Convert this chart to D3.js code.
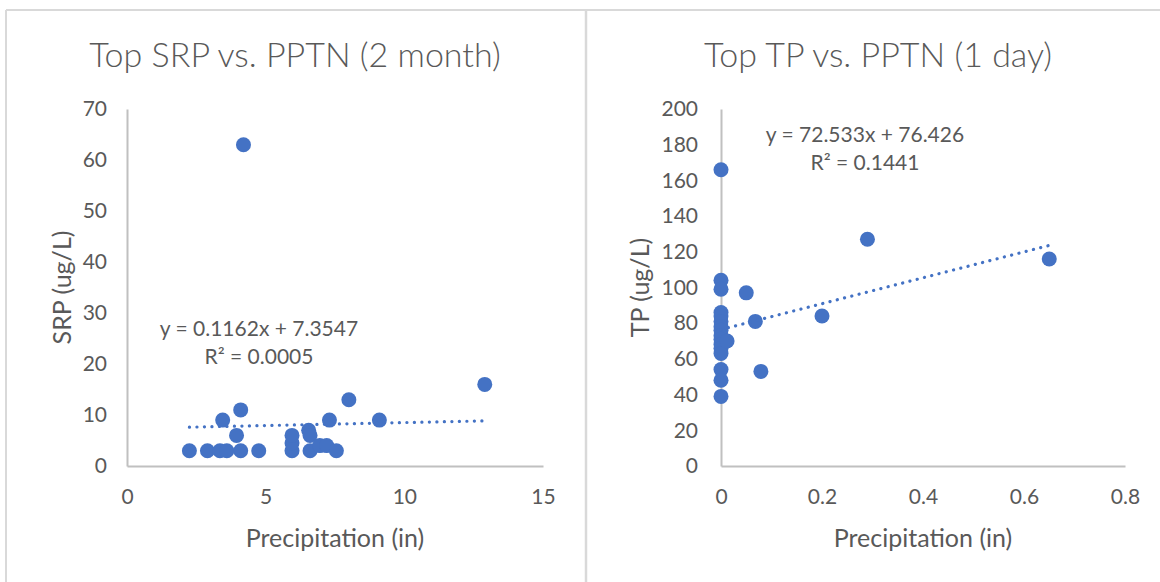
<!DOCTYPE html>
<html>
<head>
<meta charset="utf-8">
<script src="https://cdn.jsdelivr.net/npm/d3@7"></script>
<style>
  html, body { margin: 0; padding: 0; background: #fff; }
  svg text { font-family: Lato, "Open Sans", sans-serif; fill: #595959; }
</style>
</head>
<body>
<svg id="chart" width="1160" height="582"></svg>
<script>
// Left panel: top SRP vs. two-month precipitation
const srpPrecip = [2.25, 2.9, 3.35, 3.6, 4.1, 4.75, 5.95, 5.95, 5.95, 6.55, 6.6, 6.6, 6.95, 7.2, 7.55, 7.3, 8.0, 9.1, 12.9, 3.45, 4.1, 3.95, 4.2];
const srpValues = [3, 3, 3, 3, 3, 3, 3, 4.5, 6, 7, 6, 3, 4, 4, 3, 9, 13, 9, 16, 9, 11, 6, 63];
const srpTrend = { slope: 0.1162, intercept: 7.3547, r2: "0.0005" };
const srpXTicks = [0, 5, 10, 15];
const srpYTicks = [0, 10, 20, 30, 40, 50, 60, 70];

// Right panel: top TP vs. one-day precipitation
const tpPrecip = [0, 0, 0, 0, 0, 0, 0, 0, 0, 0, 0, 0, 0, 0, 0, 0, 0.012, 0.05, 0.068, 0.079, 0.2, 0.29, 0.65];
const tpValues = [166, 104, 99, 86, 84, 81, 78, 76, 73, 71, 68, 66, 63, 54, 48, 39, 70, 97, 81, 53, 84, 127, 116];
const tpTrend = { slope: 72.533, intercept: 76.426, r2: "0.1441" };
const tpXTicks = [0, 0.2, 0.4, 0.6, 0.8];
const tpYTicks = [0, 20, 40, 60, 80, 100, 120, 140, 160, 180, 200];

const svg = d3.select("#chart");
const blue = "#4472C4";
const axisGrey = "#c0c0c0";
const frameGrey = "#d9d9d9";

// chart frames
svg.append("line").attr("x1", 6).attr("x2", 1160).attr("y1", 10).attr("y2", 10)
  .attr("stroke", frameGrey).attr("stroke-width", 2);
svg.append("line").attr("x1", 6).attr("x2", 6).attr("y1", 10).attr("y2", 582)
  .attr("stroke", frameGrey).attr("stroke-width", 2);
svg.append("line").attr("x1", 586).attr("x2", 586).attr("y1", 10).attr("y2", 582)
  .attr("stroke", frameGrey).attr("stroke-width", 2.5);

function panel(cfg) {
  const g = svg.append("g");
  const x = d3.scaleLinear().domain(cfg.xDomain).range(cfg.xRange);
  const y = d3.scaleLinear().domain(cfg.yDomain).range([466, 109]);

  // title
  g.append("text").attr("x", cfg.titleX).attr("y", 67)
    .attr("text-anchor", "middle").attr("font-size", 34).attr("font-weight", 300)
    .text(cfg.title);

  // axes (lines and labels, no tick marks)
  const xAxis = g.append("g").attr("transform", `translate(0,${y(0)})`)
    .call(d3.axisBottom(x).tickValues(cfg.xTicks).tickSize(0).tickPadding(23)
      .tickFormat(d3.format("~g")));
  const yAxis = g.append("g").attr("transform", `translate(${x(0)},0)`)
    .call(d3.axisLeft(y).tickValues(cfg.yTicks).tickSize(0).tickPadding(cfg.yPad)
      .tickFormat(d3.format("~g")));
  [xAxis, yAxis].forEach(a => {
    a.select(".domain").attr("stroke", axisGrey).attr("stroke-width", 2);
    a.selectAll("text").attr("font-size", 21).attr("fill", "#595959")
      .attr("font-family", "Lato, 'Open Sans', sans-serif");
  });

  // axis titles
  g.append("text").attr("x", (cfg.xRange[0] + cfg.xRange[1]) / 2).attr("y", 547)
    .attr("text-anchor", "middle").attr("font-size", 25).text("Precipitation (in)");
  g.append("text")
    .attr("transform", `translate(${cfg.yTitleX},${(y(cfg.yDomain[0]) + y(cfg.yDomain[1])) / 2}) rotate(-90)`)
    .attr("text-anchor", "middle").attr("font-size", 25).text(cfg.yTitle);

  // points
  const pts = cfg.xs.map((v, i) => [v, cfg.ys[i]]);
  g.append("g").selectAll("circle").data(pts).join("circle")
    .attr("cx", d => x(d[0])).attr("cy", d => y(d[1])).attr("r", 7.5)
    .attr("fill", blue);

  // linear trendline over the data range
  const xMin = d3.min(cfg.xs), xMax = d3.max(cfg.xs);
  const f = v => cfg.trend.slope * v + cfg.trend.intercept;
  g.append("path")
    .datum([[xMin, f(xMin)], [xMax, f(xMax)]])
    .attr("d", d3.line().x(d => x(d[0])).y(d => y(d[1])))
    .attr("fill", "none").attr("stroke", blue).attr("stroke-width", 3.2)
    .attr("stroke-linecap", "round").attr("stroke-dasharray", "0.1 7.4");

  // trendline equation
  const eq = g.append("text").attr("text-anchor", "middle").attr("font-size", 21);
  eq.append("tspan").attr("x", cfg.eqX).attr("y", cfg.eqY)
    .text(`y = ${cfg.trend.slope}x + ${cfg.trend.intercept}`);
  eq.append("tspan").attr("x", cfg.eqX).attr("y", cfg.eqY + 28)
    .text(`R² = ${cfg.trend.r2}`);
}

panel({
  title: "Top SRP vs. PPTN (2 month)", titleX: 295,
  xDomain: [0, 15], xRange: [127, 543], yDomain: [0, 70],
  xTicks: srpXTicks, yTicks: srpYTicks, yPad: 20, yTitleX: 71, yTitle: "SRP (ug/L)",
  xs: srpPrecip, ys: srpValues, trend: srpTrend, eqX: 259, eqY: 336
});

panel({
  title: "Top TP vs. PPTN (1 day)", titleX: 878,
  xDomain: [0, 0.8], xRange: [721, 1125], yDomain: [0, 200],
  xTicks: tpXTicks, yTicks: tpYTicks, yPad: 23, yTitleX: 649, yTitle: "TP (ug/L)",
  xs: tpPrecip, ys: tpValues, trend: tpTrend, eqX: 865, eqY: 142
});
</script>
</body>
</html>
